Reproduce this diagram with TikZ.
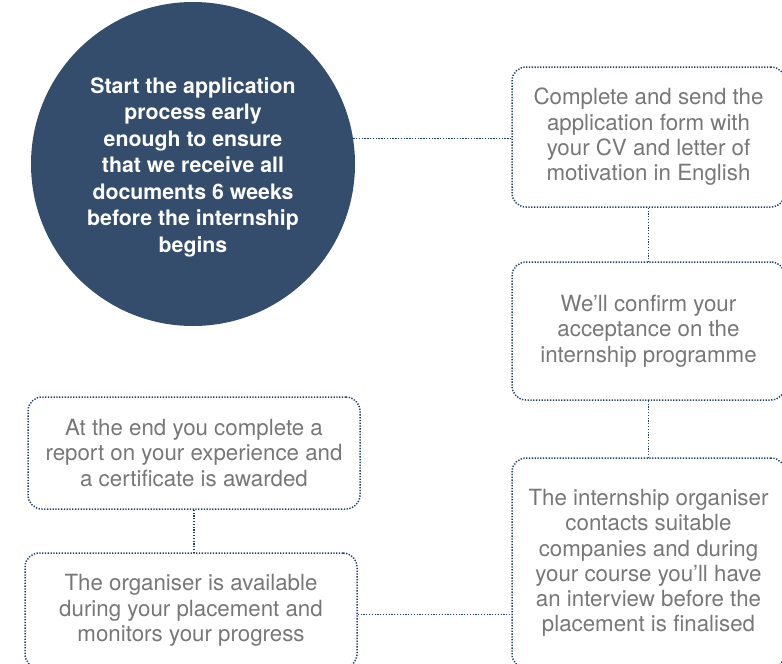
\documentclass[tikz,border=0pt]{standalone}
\usepackage{fontspec}
\setmainfont{TeX Gyre Heros}
\definecolor{navy}{HTML}{344D6D}
\definecolor{dotc}{HTML}{1F3E63}
\definecolor{txtgray}{HTML}{777777}
\begin{document}
\begin{tikzpicture}[x=1pt,y=-1pt,
  dotline/.style={draw=dotc,line width=1.5pt,dash pattern=on 1.3pt off 1.5pt},
  stepbox/.style={dotline,rounded corners=14pt,align=center,text=txtgray,
    font=\fontsize{22.3}{25.3}\selectfont,inner sep=0pt},
  startcirc/.style={circle,fill=navy,draw=none,minimum size=324pt,inner sep=0pt},
  circtext/.style={align=center,text=white,font=\bfseries\fontsize{21.3}{26.5}\selectfont,inner sep=0pt}]
\useasboundingbox (0,0) rectangle (782,664);
\begin{scope}
\clip (0,0) rectangle (782,664);
\node[startcirc] (circ) at (193,164) {};
\node[circtext] (circtxt) at (193,167) {Start the application\\process early\\enough to ensure\\that we receive all\\documents 6 weeks\\before the internship\\begins};
\node[stepbox,minimum width=273pt,minimum height=140pt] (b1) at (648.5,137) {Complete and send the\\application form with\\your CV and letter of\\motivation in English};
\node[stepbox,minimum width=273pt,minimum height=138pt] (b2) at (648.5,331) {We’ll confirm your\\acceptance on the\\internship programme};
\node[stepbox,minimum width=273pt,minimum height=210pt] (b3) at (648.5,563) {The internship organiser\\contacts suitable\\companies and during\\your course you’ll have\\an interview before the\\placement is finalised};
\node[stepbox,minimum width=332pt,minimum height=112pt] (b4) at (194,453) {At the end you complete a\\report on your experience and\\a certificate is awarded};
\node[stepbox,minimum width=332pt,minimum height=115pt] (b5) at (191,610.5) {The organiser is available\\during your placement and\\monitors your progress};
\draw[dotline] (circ.9) -- (circ.9 -| b1.west);
\draw[dotline] (b1.south) -- (b2.north);
\draw[dotline] (b2.south) -- (b3.north);
\draw[dotline] (b4.south) -- (b4.south |- b5.north);
\draw[dotline] ([yshift=-4pt]b5.east) -- ([yshift=-4pt]b5.east -| b3.west);
\end{scope}
\end{tikzpicture}
\end{document}
